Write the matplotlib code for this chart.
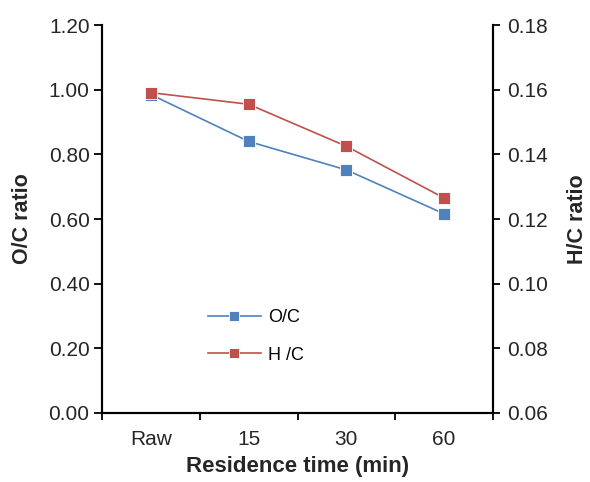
import numpy as np
import matplotlib
matplotlib.use('Agg')
import matplotlib.pyplot as plt

plt.rcParams['font.family'] = ['Liberation Sans', 'DejaVu Sans']

categories = ['Raw', '15', '30', '60']
oc_ratio = [0.985, 0.840, 0.752, 0.616]
hc_ratio = [0.1591, 0.1555, 0.1425, 0.1265]

blue = '#4F81BD'
red = '#C0504D'
txt = '#262626'

fig = plt.figure(figsize=(5.9, 4.82), dpi=100)
ax = fig.add_axes([0.1729, 0.1432, 0.6627, 0.8048])
ax2 = ax.twinx()

x = np.arange(len(categories))
l1, = ax.plot(x, oc_ratio, color=blue, lw=1.2, marker='s', ms=9,
              mfc=blue, mec='white', mew=0.6, label='O/C', zorder=3)
l2, = ax2.plot(x, hc_ratio, color=red, lw=1.2, marker='s', ms=9,
               mfc=red, mec='white', mew=0.6, label='H /C', zorder=3)

ax.set_xlim(-0.5, 3.5)
ax.set_ylim(0, 1.2)
ax2.set_ylim(0.06, 0.18)
ax.set_yticks(np.arange(0, 1.21, 0.2))
ax.set_yticklabels([f'{v:.2f}' for v in np.arange(0, 1.21, 0.2)])
ax2.set_yticks(np.arange(0.06, 0.181, 0.02))
ax2.set_yticklabels([f'{v:.2f}' for v in np.arange(0.06, 0.181, 0.02)])

# category labels centred, tick marks at the boundaries
ax.set_xticks(np.arange(-0.5, 3.6, 1.0))
ax.set_xticklabels([])
ax.set_xticks(x, minor=True)
ax.set_xticklabels(categories, minor=True)
ax.tick_params(axis='x', which='minor', length=0, pad=12, labelsize=15, colors=txt)
ax.tick_params(axis='x', which='major', length=5, width=1.3, direction='out')
ax.tick_params(axis='y', length=6, width=1.3, direction='out', labelsize=15,
               labelcolor=txt, pad=3)
ax2.tick_params(axis='y', length=5, width=1.3, direction='out', labelsize=15,
                labelcolor=txt, pad=5)

for a in (ax, ax2):
    for s in a.spines.values():
        s.set_linewidth(1.5)
ax.spines['top'].set_visible(False)
ax2.spines['top'].set_visible(False)

ax.set_xlabel('Residence time (min)', fontsize=16, fontweight='bold', labelpad=5, color=txt)
ax.set_ylabel('O/C ratio', fontsize=15.5, fontweight='bold', color=txt)
ax2.set_ylabel('H/C ratio', fontsize=15.5, fontweight='bold', color=txt)
ax.yaxis.set_label_coords(-0.176, 0.5)
ax2.yaxis.set_label_coords(1.19, 0.5)

leg = ax.legend(handles=[l1, l2], loc='upper left', bbox_to_anchor=(0.23, 0.31),
                frameon=False, fontsize=13, handlelength=2.9, labelspacing=1.15,
                handletextpad=0.4)
for h in leg.legend_handles:
    h.set_markersize(6.5)

fig.savefig('out.png', dpi=100)
